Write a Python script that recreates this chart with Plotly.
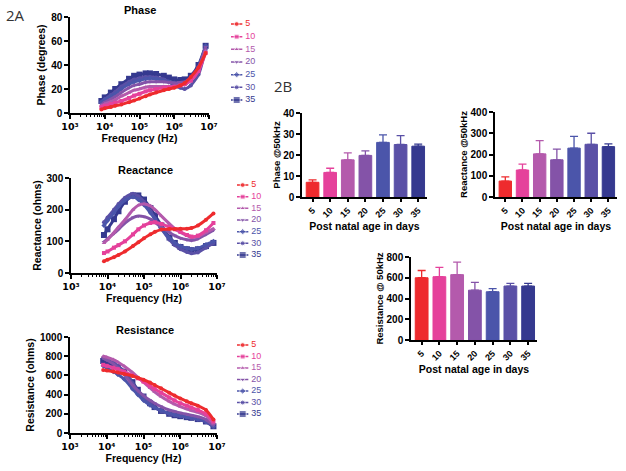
import plotly.graph_objects as go

W, H = 626, 471
FONT = "Liberation Sans, Arial, Helvetica, sans-serif"

# ---------------- data ----------------
ages = ["5", "10", "15", "20", "25", "30", "35"]
series_colors = ["#EE2B2E", "#E5419B", "#B45AAC", "#8453A8", "#4B55AA", "#5A50A6", "#35398F"]
series_symbols = ["circle", "square", "triangle-up", "triangle-down", "diamond", "circle", "square"]
series_sizes = [4, 4, 4, 4, 4, 4, 6]

freq_hz = [8e3, 1e4, 1.5e4, 2e4, 3e4, 5e4, 7e4, 1e5, 1.5e5, 2e5, 3e5, 5e5, 7e5,
           1e6, 1.5e6, 2e6, 3e6, 5e6, 8e6]

phase_deg = [
    [3, 4, 5, 6, 7, 9, 10.5, 12, 14, 15.5, 17, 19, 20, 21, 23, 25, 30, 38, 50],
    [5, 6, 7.5, 8.5, 10, 12.5, 14.5, 16, 18, 19, 20, 21, 21.5, 22, 23, 24, 27, 35, 50],
    [6, 7.5, 9.5, 11, 14, 17, 19, 20, 21.5, 22, 22, 22, 22, 22, 23, 24, 28, 36, 52],
    [7, 9, 11.5, 13.5, 17, 21, 23, 24, 25.5, 26, 26, 26, 25.5, 25, 25.5, 26, 29, 38, 55],
    [9, 11, 14, 16, 20, 24, 26, 27, 28.5, 29, 28.5, 27, 26, 25, 24.5, 24, 28, 38, 56],
    [9, 11.5, 15, 17.5, 22, 26, 28, 29, 30, 30, 29.5, 28, 26, 23, 21, 20, 23, 32, 53],
    [10, 13, 17, 20, 24, 28.5, 31, 32, 33, 33, 32.5, 31, 29.5, 28, 27.5, 28, 31, 40, 56],
]

reactance_ohm = [
    [37, 42, 50, 57, 68, 85, 97, 110, 122, 130, 137, 139, 139, 140, 140, 142, 150, 168, 188],
    [63, 68, 80, 88, 100, 122, 138, 150, 158, 160, 155, 145, 138, 130, 120, 115, 118, 135, 158],
    [95, 105, 128, 145, 168, 200, 214, 218, 212, 200, 180, 155, 140, 128, 118, 112, 115, 128, 140],
    [98, 108, 125, 138, 158, 175, 180, 178, 170, 160, 145, 128, 118, 110, 105, 103, 108, 122, 135],
    [150, 165, 190, 210, 230, 240, 232, 215, 190, 170, 140, 110, 95, 85, 78, 75, 78, 90, 100],
    [160, 175, 200, 218, 238, 250, 242, 225, 195, 172, 140, 105, 88, 75, 66, 62, 65, 80, 95],
    [120, 138, 170, 195, 225, 245, 245, 232, 205, 182, 150, 112, 95, 82, 75, 72, 75, 85, 95],
]

resistance_ohm = [
    [655, 650, 640, 630, 615, 595, 575, 555, 525, 500, 465, 420, 390, 360, 330, 310, 285, 240, 140],
    [710, 700, 680, 665, 640, 600, 570, 535, 490, 460, 420, 370, 340, 310, 285, 265, 240, 200, 120],
    [800, 790, 765, 740, 695, 630, 580, 530, 470, 430, 380, 330, 300, 275, 250, 235, 215, 180, 100],
    [780, 760, 720, 680, 610, 500, 440, 390, 340, 310, 275, 240, 225, 210, 195, 185, 170, 140, 80],
    [700, 680, 640, 610, 560, 460, 400, 340, 290, 265, 235, 205, 190, 180, 170, 160, 145, 120, 70],
    [780, 765, 735, 700, 640, 520, 440, 370, 300, 265, 230, 200, 185, 175, 165, 155, 140, 115, 65],
    [750, 740, 715, 690, 640, 530, 450, 380, 310, 270, 230, 200, 185, 175, 165, 158, 145, 120, 70],
]

phase_50k = [7.0, 11.7, 17.7, 19.8, 26.0, 25.0, 24.2]
phase_50k_err = [1.2, 2.0, 3.3, 2.2, 3.6, 4.2, 1.0]
reactance_50k = [75, 127, 203, 175, 230, 248, 237]
reactance_50k_err = [20, 28, 62, 50, 55, 52, 13]
resistance_50k = [600, 610, 630, 480, 465, 520, 520]
resistance_50k_err = [70, 90, 120, 75, 30, 25, 25]

log_ticks = [1e3, 1e4, 1e5, 1e6, 1e7]
log_ticktext = ["10³", "10⁴", "10⁵", "10⁶", "10⁷"]


# ---------------- helpers (pixel -> paper) ----------------
def xd(a, b):
    return [a / W, b / W]


def yd(top, bottom):
    return [1 - bottom / H, 1 - top / H]


fig = go.Figure()

tickfont = dict(family=FONT, size=10, color="black", weight="bold")
titlefont = dict(family=FONT, size=10.5, color="black", weight="bold")
base_axis = dict(showline=True, linecolor="black", linewidth=1.5, ticks="outside",
                 ticklen=4, tickwidth=1.5, tickcolor="black", showgrid=False,
                 zeroline=False, tickfont=tickfont, title_font=titlefont,
                 automargin=False)

# ---------------- line charts ----------------
line_panels = [
    (1, phase_deg, "Phase (degrees)", [0, 80], 20),
    (2, reactance_ohm, "Reactance (ohms)", [0, 300], 100),
    (3, resistance_ohm, "Resistance (ohms)", [0, 1000], 200),
]
for ax, data, ytitle, yrange, dtick in line_panels:
    xa = "x" if ax == 1 else f"x{ax}"
    ya = "y" if ax == 1 else f"y{ax}"
    for i in reversed(range(len(ages))):
        fig.add_trace(go.Scatter(
            x=freq_hz, y=data[i], mode="lines+markers", name=ages[i],
            line=dict(color=series_colors[i], width=3, shape="spline", smoothing=0.6),
            marker=dict(color=series_colors[i], symbol=series_symbols[i], size=series_sizes[i]),
            xaxis=xa, yaxis=ya, showlegend=False))

# ---------------- bar charts ----------------
bar_panels = [
    (4, phase_50k, phase_50k_err),
    (5, reactance_50k, reactance_50k_err),
    (6, resistance_50k, resistance_50k_err),
]
for ax, vals, errs in bar_panels:
    for i in range(len(ages)):
        fig.add_trace(go.Bar(
            x=[ages[i]], y=[vals[i]], width=0.72, name=ages[i],
            marker=dict(color=series_colors[i], line=dict(color=series_colors[i], width=1)),
            error_y=dict(type="data", symmetric=False, array=[errs[i]], arrayminus=[0],
                         color=series_colors[i], thickness=1.3, width=4),
            xaxis=f"x{ax}", yaxis=f"y{ax}", showlegend=False))

# ---------------- custom legends (one per line chart) ----------------
for ax in (7, 8, 9):
    for i in range(len(ages)):
        fig.add_trace(go.Scatter(
            x=[0, 0.5, 1], y=[i, i, i], mode="lines+markers",
            line=dict(color=series_colors[i], width=1.5),
            marker=dict(color=series_colors[i], symbol=series_symbols[i],
                        size=[0, series_sizes[i] + 1, 0]),
            xaxis=f"x{ax}", yaxis=f"y{ax}", showlegend=False, hoverinfo="skip"))
    fig.add_trace(go.Scatter(
        x=[1.25] * len(ages), y=list(range(len(ages))), mode="text", text=ages,
        textposition="middle right",
        textfont=dict(family=FONT, size=9, color=series_colors),
        xaxis=f"x{ax}", yaxis=f"y{ax}", showlegend=False, hoverinfo="skip"))

layout = dict(
    template="none",
    width=W, height=H, margin=dict(l=0, r=0, t=0, b=0, pad=0, autoexpand=False),
    paper_bgcolor="white", plot_bgcolor="white", barmode="overlay",
    showlegend=False, font=dict(family=FONT, color="black"),
)

# line-chart axes
line_dom = {
    1: (xd(70, 209), yd(17, 113)),
    2: (xd(71, 217), yd(178, 273)),
    3: (xd(70, 217), yd(337, 433)),
}
for ax, data, ytitle, yrange, dtick in line_panels:
    xdmn, ydmn = line_dom[ax]
    sfx = "" if ax == 1 else str(ax)
    layout[f"xaxis{sfx}"] = dict(
        base_axis, domain=xdmn, type="log", range=[3, 7],
        tickvals=log_ticks, ticktext=log_ticktext,
        tickfont=dict(family="DejaVu Sans", size=9.5, color="black", weight="bold"),
        minor=dict(ticks="outside", ticklen=2, tickwidth=1, tickcolor="black", dtick="D1"),
        title=dict(text="Frequency (Hz)", standoff=1),
        anchor=f"y{sfx}")
    layout[f"yaxis{sfx}"] = dict(
        base_axis, domain=ydmn, range=yrange, dtick=dtick,
        title=dict(text=ytitle, standoff=3), anchor=f"x{sfx}")

# bar-chart axes
bar_dom = {
    4: (xd(302, 427), yd(113, 197), [0, 40], 10, "Phase @50kHz"),
    5: (xd(495, 617), yd(112, 197), [0, 400], 100, "Reactance @50kHz"),
    6: (xd(411, 537), yd(257, 340), [0, 800], 200, "Resistance @ 50kHz"),
}
for ax, (xdmn, ydmn, yrange, dtick, ytitle) in bar_dom.items():
    layout[f"xaxis{ax}"] = dict(
        base_axis, domain=xdmn, type="category", categoryorder="array",
        categoryarray=ages, range=[-0.6, 6.5], tickangle=-45, ticklen=3,
        tickfont=dict(family=FONT, size=9, color="black", weight="bold"),
        title=dict(text="Post natal age in days", standoff=0), anchor=f"y{ax}")
    layout[f"yaxis{ax}"] = dict(
        base_axis, domain=ydmn, range=yrange, dtick=dtick,
        title=dict(text=ytitle, standoff=1, font=dict(family=FONT, size=9.5, weight="bold")),
        anchor=f"x{ax}")

# legend axes
leg_dom = {
    7: (xd(231, 265), yd(17.7, 106.3)),
    8: (xd(237, 271), yd(179.2, 260.8)),
    9: (xd(237, 271), yd(339.3, 419.8)),
}
for ax, (xdmn, ydmn) in leg_dom.items():
    layout[f"xaxis{ax}"] = dict(domain=xdmn, range=[0, 3], visible=False, anchor=f"y{ax}")
    layout[f"yaxis{ax}"] = dict(domain=ydmn, range=[6.5, -0.5], visible=False, anchor=f"x{ax}")


def label(text, px, py, font):
    return dict(text=text, x=px / W, y=1 - py / H, xref="paper", yref="paper",
                xanchor="center", yanchor="middle", showarrow=False, font=font)


title_font = dict(family=FONT, size=11, weight="bold", color="black")
panel_font = dict(family="Open Sans, DejaVu Sans", size=15, color="#333")
layout["annotations"] = [
    label("Phase", 140, 10, title_font),
    label("Reactance", 145, 170, title_font),
    label("Resistance", 145, 330, title_font),
    label("2A", 15, 15, panel_font),
    label("2B", 283, 86, panel_font),
]

fig.update_layout(**layout)
fig.write_html(
    "out.html",
    config={"displayModeBar": False},
    post_script="document.body.style.margin='0';document.body.style.overflow='hidden';",
)
